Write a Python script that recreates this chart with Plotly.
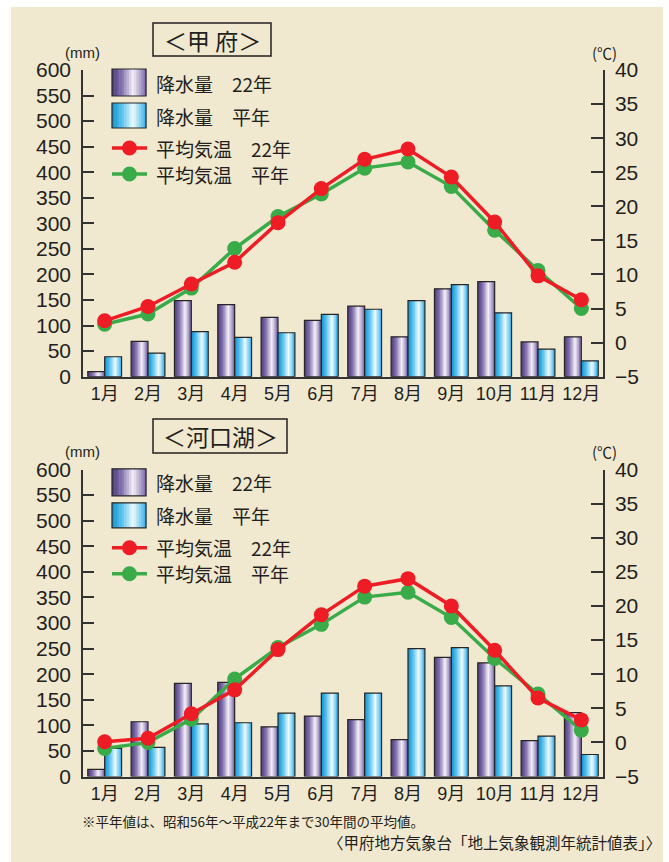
import plotly.graph_objects as go

W, H = 669, 862

MONTHS = ["1月", "2月", "3月", "4月", "5月", "6月", "7月", "8月", "9月", "10月", "11月", "12月"]

# 甲府
KOFU_RAIN_22 = [10, 69, 149, 141, 116, 110, 138, 78, 172, 186, 68, 78]
KOFU_RAIN_NORMAL = [39, 46, 88, 77, 86, 122, 132, 149, 180, 125, 54, 31]
KOFU_TEMP_22 = [3.2, 5.3, 8.6, 11.8, 17.6, 22.6, 26.9, 28.4, 24.3, 17.7, 9.8, 6.3]
KOFU_TEMP_NORMAL = [2.7, 4.2, 8.0, 13.8, 18.5, 21.8, 25.6, 26.5, 22.9, 16.5, 10.6, 5.0]

# 河口湖
KAWA_RAIN_22 = [14, 107, 182, 184, 97, 118, 111, 72, 233, 222, 70, 125]
KAWA_RAIN_NORMAL = [55, 57, 103, 105, 124, 163, 163, 250, 252, 177, 79, 43]
KAWA_TEMP_22 = [0.1, 0.6, 4.2, 7.7, 13.6, 18.7, 22.9, 24.0, 20.0, 13.5, 6.5, 3.3]
KAWA_TEMP_NORMAL = [-0.9, 0.0, 3.4, 9.3, 13.9, 17.3, 21.3, 22.0, 18.3, 12.3, 7.1, 1.8]

LEGEND_LABELS = ["降水量　22年", "降水量　平年", "平均気温　22年", "平均気温　平年"]

BG = "#f0e8cf"
INK = "#231f20"
AXIS = "#333333"
RED = "#ee1c25"
GREEN = "#3aab49"
PURPLE_STOPS = [(0.0, "#4a3878"), (0.3, "#8574b0"), (0.62, "#f4f0f8"), (1.0, "#7a66a8")]
BLUE_STOPS = [(0.0, "#0f8fcf"), (0.3, "#5cc3ee"), (0.62, "#eefafe"), (1.0, "#35afe6")]

NUM = "Liberation Sans, Arial, Noto Sans CJK JP"
JP = "Noto Sans CJK JP, Noto Sans CJK SC"


def hex_rgb(h):
    h = h.lstrip("#")
    return [int(h[i:i + 2], 16) for i in (0, 2, 4)]


def ramp(stops, t):
    for (t0, c0), (t1, c1) in zip(stops, stops[1:]):
        if t <= t1:
            f = (t - t0) / (t1 - t0)
            a, b = hex_rgb(c0), hex_rgb(c1)
            return "rgb(%d,%d,%d)" % tuple(round(a[k] + (b[k] - a[k]) * f) for k in range(3))
    return stops[-1][1]


def px(x):
    return x / W


def py(y):
    return 1 - y / H


def label(text, x, y, size, family=JP, xanchor="center"):
    return dict(text=text, xref="paper", yref="paper", x=px(x), y=py(y),
                xanchor=xanchor, yanchor="middle", showarrow=False,
                font=dict(family=family, size=size, color=INK))


PANELS = [
    dict(title="＜甲 府＞", rain=(KOFU_RAIN_22, KOFU_RAIN_NORMAL),
         temp=(KOFU_TEMP_22, KOFU_TEMP_NORMAL), top=70, bottom=376.7,
         x="x", y="y", y2="y2", box=(153, 271, 23, 56)),
    dict(title="＜河口湖＞", rain=(KAWA_RAIN_22, KAWA_RAIN_NORMAL),
         temp=(KAWA_TEMP_22, KAWA_TEMP_NORMAL), top=469.5, bottom=776.5,
         x="x2", y="y3", y2="y4", box=(153, 287, 419, 453)),
]

BAR_W = 0.39
STRIPS = 12

fig = go.Figure()
shapes = []
annotations = []

# beige panel
shapes.append(dict(type="rect", xref="paper", yref="paper", x0=px(11), x1=px(663),
                   y0=py(H), y1=py(7), fillcolor=BG, line_width=0, layer="below"))

idx = list(range(12))

for p in PANELS:
    for series, stops, off in ((p["rain"][0], PURPLE_STOPS, -BAR_W), (p["rain"][1], BLUE_STOPS, 0.0)):
        sw = BAR_W / STRIPS
        for i in range(STRIPS):
            fig.add_trace(go.Bar(
                x=idx, y=series, width=sw * (1.6 if i < STRIPS - 1 else 1.0), offset=off + i * sw,
                marker=dict(color=ramp(stops, (i + 0.5) / STRIPS), line_width=0),
                xaxis=p["x"], yaxis=p["y"], showlegend=False, hoverinfo="skip"))
        fig.add_trace(go.Bar(
            x=idx, y=series, width=BAR_W, offset=off,
            marker=dict(color="rgba(0,0,0,0)", line=dict(color="#262626", width=1.2)),
            xaxis=p["x"], yaxis=p["y"], showlegend=False, hoverinfo="skip"))
    for series, color in ((p["temp"][1], GREEN), (p["temp"][0], RED)):
        fig.add_trace(go.Scatter(
            x=idx, y=series, mode="lines+markers",
            line=dict(color=color, width=3.5), marker=dict(color=color, size=15),
            xaxis=p["x"], yaxis=p["y2"], showlegend=False, hoverinfo="skip"))

    dy = p["bottom"] - 376.7

    # title box
    x0, x1, y0, y1 = p["box"]
    shapes.append(dict(type="rect", xref="paper", yref="paper", x0=px(x0), x1=px(x1),
                       y0=py(y1), y1=py(y0), line=dict(color=INK, width=1.5), fillcolor=BG))
    annotations.append(label(p["title"], (x0 + x1) / 2, (y0 + y1) / 2, 23))

    # unit labels
    annotations.append(label("(mm)", 82, 52 + dy, 15, NUM))
    annotations.append(label("(℃)", 604, 52 + dy, 15))

    # legend swatches
    for (ya, yb), stops in (((69, 96), PURPLE_STOPS), ((103, 128), BLUE_STOPS)):
        n = 14
        for i in range(n):
            xa = 112 + 34 * i / n
            shapes.append(dict(type="rect", xref="paper", yref="paper",
                               x0=px(xa), x1=px(xa + 34 / n + 0.4), y0=py(yb + dy), y1=py(ya + dy),
                               fillcolor=ramp(stops, (i + 0.5) / n), line_width=0))
        shapes.append(dict(type="rect", xref="paper", yref="paper", x0=px(112), x1=px(146),
                           y0=py(yb + dy), y1=py(ya + dy), line=dict(color="#262626", width=1.2)))
    for yl, color in ((148, RED), (174, GREEN)):
        shapes.append(dict(type="line", xref="paper", yref="paper", x0=px(112), x1=px(147),
                           y0=py(yl + dy), y1=py(yl + dy), line=dict(color=color, width=3.5)))
        shapes.append(dict(type="circle", xref="paper", yref="paper", x0=px(122), x1=px(137),
                           y0=py(yl + dy + 7.5), y1=py(yl + dy - 7.5), fillcolor=color, line_width=0))
    for text, yt in zip(LEGEND_LABELS, (83, 116, 148, 174)):
        annotations.append(label(text, 154, yt + dy, 19, xanchor="left"))

annotations.append(label("※平年値は、昭和56年～平成22年まで30年間の平均値。", 80, 821, 13.5, xanchor="left"))
annotations.append(label("〈甲府地方気象台「地上気象観測年統計値表」〉", 663, 842, 15.5, xanchor="right"))

layout = dict(
    width=W, height=H, margin=dict(l=0, r=0, t=0, b=0),
    paper_bgcolor="white", plot_bgcolor="rgba(0,0,0,0)",
    barmode="overlay", showlegend=False,
    shapes=shapes, annotations=annotations,
)

for k, p in enumerate(PANELS):
    xname = "xaxis" if k == 0 else "xaxis2"
    yname = "yaxis" if k == 0 else "yaxis3"
    y2name = "yaxis2" if k == 0 else "yaxis4"
    dom = [py(p["bottom"]), py(p["top"])]
    layout[xname] = dict(domain=[px(83), px(603)], range=[-0.5, 11.5], anchor=p["y"],
                         tickmode="array", tickvals=idx, ticktext=MONTHS, ticks="",
                         showline=True, linecolor=AXIS, linewidth=1.5, showgrid=False,
                         zeroline=False, automargin=False,
                         tickfont=dict(family=NUM, size=18, color=INK))
    layout[yname] = dict(domain=dom, range=[0, 600], tick0=0, dtick=50, anchor=p["x"],
                         ticks="inside", ticklen=11, tickwidth=1.5, tickcolor=AXIS,
                         showline=True, linecolor=AXIS, linewidth=1.5, showgrid=False,
                         zeroline=False, ticklabelstandoff=6, automargin=False,
                         tickfont=dict(family=NUM, size=21, color=INK))
    layout[y2name] = dict(domain=dom, range=[-5, 40], tick0=-5, dtick=5, anchor=p["x"],
                          overlaying=p["y"], side="right",
                          ticks="inside", ticklen=12, tickwidth=1.5, tickcolor=AXIS,
                          showline=True, linecolor=AXIS, linewidth=1.5, showgrid=False,
                          zeroline=False, ticklabelstandoff=6, automargin=False,
                          tickfont=dict(family=NUM, size=21, color=INK))

fig.update_layout(**layout)

fig.write_html("out.html", config={"displayModeBar": False},
               post_script="document.body.style.margin='0';")
